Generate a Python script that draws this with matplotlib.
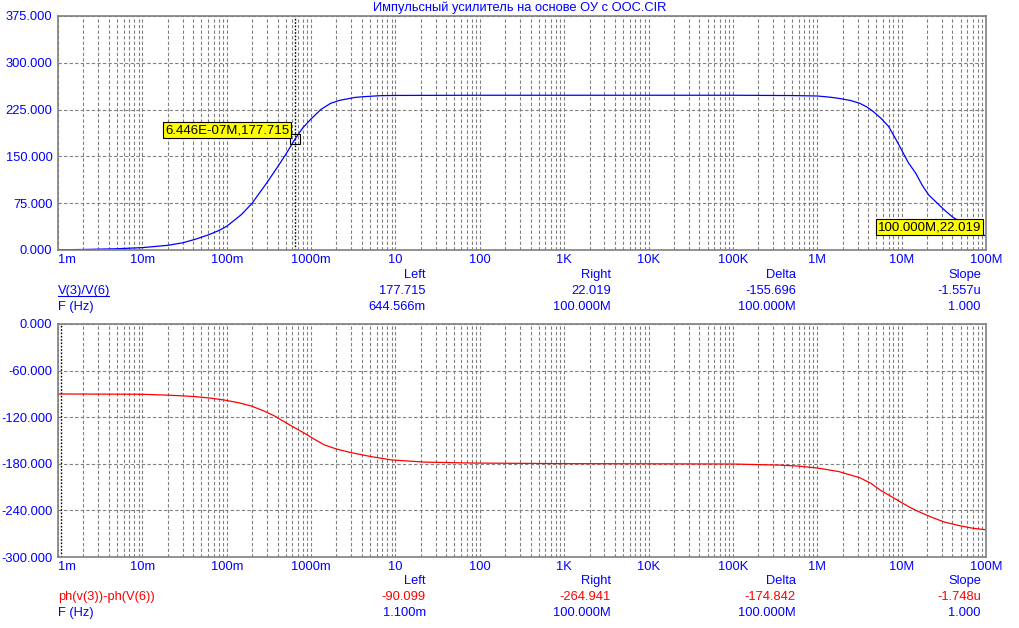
import numpy as np
import matplotlib
matplotlib.use('Agg')
import matplotlib.pyplot as plt

plt.rcParams['font.family'] = ['Liberation Sans', 'DejaVu Sans']

# --- dados ---
titulo = 'Импульсный усилитель на основе ОУ с ООС.CIR'

# V(3)/V(6) (ganho)
freq_ganho = [1e-3, 2e-3, 5e-3, 1e-2, 2e-2, 3e-2, 4.2e-2, 6e-2, 8e-2, 0.1, 0.15, 0.2, 0.3,
              0.4, 0.5, 0.644566, 0.8, 1.0, 1.3, 1.7, 2.2, 2.65, 3.3, 4.2, 6.6, 10, 100,
              1e3, 1e4, 1e5, 5e5, 1e6, 1.4e6, 1.8e6, 2.5e6, 3.2e6, 3.9e6, 4.6e6, 5.7e6,
              7e6, 8.5e6, 1.02e7, 1.2e7, 1.47e7, 1.75e7, 2.1e7, 2.6e7, 3.1e7, 4e7, 5e7,
              6e7, 8e7, 1e8]
ganho = [0.4, 0.8, 2.0, 3.8, 7.5, 11.5, 17.0, 24.0, 31.0, 38.0, 57.0, 75.0, 108.0,
         133.0, 153.0, 177.715, 196.0, 210.0, 225.0, 235.0, 240.0, 242.0, 244.5, 245.7, 247.3, 247.7, 248.0,
         248.0, 248.0, 248.0, 247.5, 246.8, 245.0, 243.0, 239.5, 235.0, 229.0, 222.0, 211.0,
         198.0, 178.0, 158.0, 140.0, 123.0, 104.0, 88.0, 76.0, 66.0, 53.0, 45.0,
         39.0, 29.0, 22.019]

# ph(v(3))-ph(V(6)) (fase)
freq_fase = [1e-3, 1.1e-3, 1e-2, 1.9e-2, 3e-2, 4.2e-2, 6.5e-2, 9.5e-2, 0.14, 0.195, 0.27,
             0.37, 0.5, 0.65, 0.84, 1.1, 1.45, 2.0, 3.0, 5.0, 8.9, 22, 80, 1e3, 1e4, 1e5,
             3.6e5, 6e5, 1e6, 1.8e6, 3.2e6, 4.3e6, 5.6e6, 7.5e6, 1e7, 1.3e7, 1.7e7, 2.3e7,
             3.2e7, 5e7, 7e7, 1e8]
fase = [-90.1, -90.099, -90.5, -91.5, -92.5, -93.5, -95.5, -98.0, -101.5, -105.6, -111.5,
        -118.5, -127.0, -134.0, -140.8, -148.5, -155.8, -161.0, -165.7, -170.5, -175.0, -177.8, -179.0, -179.8, -180.0, -180.3,
        -181.7, -183.0, -185.4, -190.0, -198.0, -205.0, -214.0, -222.0, -230.0, -237.0, -243.0, -249.0,
        -255.0, -260.0, -263.0, -264.941]

x_ticks = [1e-3, 1e-2, 1e-1, 1, 10, 100, 1e3, 1e4, 1e5, 1e6, 1e7, 1e8]
x_labels = ['1m', '10m', '100m', '1000m', '10', '100', '1K', '10K', '100K', '1M', '10M', '100M']
y_ticks_ganho = [0, 75, 150, 225, 300, 375]
y_ticks_fase = [0, -60, -120, -180, -240, -300]

cursor_ganho = (0.644566, 177.715, 1e8, 22.019)
cursor_fase = (1.1e-3, -90.099, 1e8, -264.941)

azul = '#0000FF'
vermelho = '#FF0000'
cinza = '#808080'

W, H = 1020, 628
fig = plt.figure(figsize=(W / 100, H / 100), dpi=100)


def px(x, y):
    return x / W, 1 - y / H


def montar_eixo(ax, y_ticks, ylim):
    ax.set_xscale('log')
    ax.set_xlim(1e-3, 1e8)
    ax.set_ylim(*ylim)
    ax.set_xticks(x_ticks)
    ax.set_xticklabels(x_labels)
    ax.xaxis.set_minor_locator(matplotlib.ticker.LogLocator(base=10, subs=np.arange(2, 10), numticks=100))
    ax.xaxis.set_minor_formatter(matplotlib.ticker.NullFormatter())
    ax.set_yticks(y_ticks)
    ax.set_yticklabels(['%.3f' % v for v in y_ticks])
    ax.tick_params(which='both', length=0, colors=azul, labelsize=9.3)
    ax.tick_params(axis='x', pad=3)
    ax.tick_params(axis='y', pad=4)
    ax.get_xticklabels()[0].set_horizontalalignment('left')
    ax.grid(True, which='both', axis='x', color=cinza, linestyle=(0, (3, 2)), linewidth=0.8)
    ax.grid(True, which='major', axis='y', color=cinza, linestyle=(0, (3, 2)), linewidth=0.8)
    for s in ax.spines.values():
        s.set_color(cinza)
        s.set_linewidth(1.2)


# gráfico de ganho
ax1 = fig.add_axes([58 / W, 1 - 250 / H, 928 / W, 234 / H])
montar_eixo(ax1, y_ticks_ganho, (0, 375))
ax1.plot(freq_ganho, ganho, color=azul, linewidth=0.9)
ax1.axvline(cursor_ganho[0], color='black', linestyle=(0, (1.2, 1.2)), linewidth=1.0)
ax1.plot([cursor_ganho[0]], [cursor_ganho[1]], marker='s', markersize=7,
         markerfacecolor='none', markeredgecolor='black', markeredgewidth=0.8)
ax1.annotate('6.446E-07M,177.715', xy=(cursor_ganho[0], cursor_ganho[1]),
             xytext=(-6, 3), textcoords='offset pixels', ha='right', va='bottom',
             fontsize=9.5, color='black',
             bbox=dict(boxstyle='square,pad=0.15', facecolor='#FFFF00', edgecolor='black', linewidth=0.8))
ax1.annotate('100.000M,22.019', xy=(cursor_ganho[2], cursor_ganho[3]),
             xytext=(-5, 3), textcoords='offset pixels', ha='right', va='bottom',
             fontsize=9.5, color='black',
             bbox=dict(boxstyle='square,pad=0.15', facecolor='#FFFF00', edgecolor='black', linewidth=0.8))

# gráfico de fase
ax2 = fig.add_axes([58 / W, 1 - 557 / H, 928 / W, 233 / H])
montar_eixo(ax2, y_ticks_fase, (-300, 0))
ax2.plot(freq_fase, fase, color=vermelho, linewidth=0.9)
ax2.axvline(cursor_fase[0], color='black', linestyle=(0, (1.2, 1.2)), linewidth=1.0)

fig.text(*px(520, 8), titulo, color=azul, fontsize=9.3, ha='center', va='center')

# leituras dos cursores
colunas = [426, 611, 796, 981]
cabecalho = ['Left', 'Right', 'Delta', 'Slope']


def leituras(y0, nome, cor_nome, valores, freqs):
    for x, t in zip(colunas, cabecalho):
        fig.text(*px(x, y0), t, color=azul, fontsize=9.3, ha='right', va='center')
    tn = fig.text(*px(58, y0 + 16), nome, color=cor_nome, fontsize=9.3, ha='left', va='center')
    fig.text(*px(58, y0 + 32), 'F (Hz)', color=azul, fontsize=9.3, ha='left', va='center')
    for x, v, f in zip(colunas, valores, freqs):
        fig.text(*px(x, y0 + 16), v, color=cor_nome, fontsize=9.3, ha='right', va='center')
        fig.text(*px(x, y0 + 32), f, color=azul, fontsize=9.3, ha='right', va='center')
    return tn


t1 = leituras(275, 'V(3)/V(6)', azul, ['177.715', '22.019', '-155.696', '-1.557u'],
              ['644.566m', '100.000M', '100.000M', '1.000'])
leituras(581, 'ph(v(3))-ph(V(6))', vermelho, ['-90.099', '-264.941', '-174.842', '-1.748u'],
         ['1.100m', '100.000M', '100.000M', '1.000'])

# sublinhado do nome da curva ativa
fig.canvas.draw()
bb = t1.get_window_extent()
fig.add_artist(plt.Line2D([bb.x0 / W, (bb.x1 - 1) / W], [(bb.y0 + 1) / H] * 2, color=azul, linewidth=0.8))

fig.savefig('out.png', dpi=100, facecolor='white')
